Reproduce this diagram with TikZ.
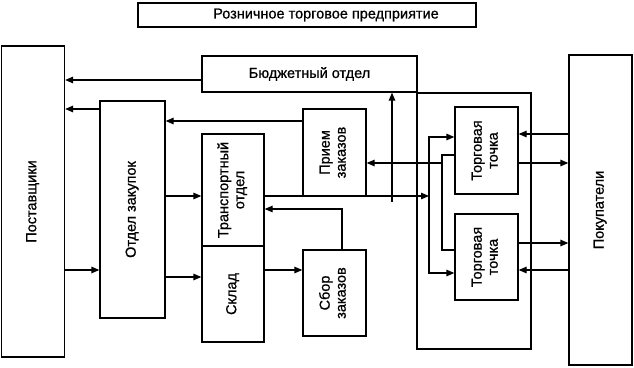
\documentclass[tikz,border=0pt]{standalone}
\usepackage{fontspec}
\setmainfont{Liberation Sans}[FakeBold=0.8]
\usetikzlibrary{arrows.meta}
\newcommand{\vtext}[1]{\rotatebox{90}{\begin{tabular}{@{}c@{}}#1\end{tabular}}}
\begin{document}
\begin{tikzpicture}[x=1pt,y=-1pt,line width=1.3pt,
  every node/.style={font=\fontsize{14.5}{16}\selectfont},
  box/.style={draw,rectangle,inner sep=0pt},
  arr/.style={-{Triangle[length=8pt,width=6.5pt]}}]
\useasboundingbox (0,0) rectangle (634,367);
\node[box,minimum width=338pt,minimum height=24pt] (title) at (307,15) {\hspace*{38pt}Розничное торговое предприятие};
\node[box,minimum width=63pt,minimum height=311pt] (supp) at (33,201.5) {\vtext{Поставщики}};
\node[box,minimum width=65pt,minimum height=217pt] (purch) at (132.5,209.5) {\vtext{Отдел закупок}};
\node[box,minimum width=215pt,minimum height=36pt] (budget) at (309.5,74) {Бюджетный отдел};
\node[box,minimum width=62pt,minimum height=112pt] (transp) at (233,190) {\vtext{Транспортный\\отдел}};
\node[box,minimum width=62pt,minimum height=96pt] (store) at (233,294) {\vtext{Склад}};
\node[box,minimum width=63pt,minimum height=87pt] (recv) at (334.5,152.5) {\vtext{Прием\\заказов}};
\node[box,minimum width=63pt,minimum height=86pt] (pick) at (334.5,293) {\vtext{Сбор\\заказов}};
\node[box,minimum width=114pt,minimum height=256pt] (shop) at (474,221) {};
\node[box,minimum width=63pt,minimum height=87pt] (pt1) at (486.5,150.5) {\vtext{Торговая\\точка}};
\node[box,minimum width=63pt,minimum height=86pt] (pt2) at (486.5,257) {\vtext{Торговая\\точка}};
\node[box,minimum width=63pt,minimum height=310pt] (buy) at (600.5,210) {\vtext{Покупатели}};
% supply side
\draw[arr] (budget.west |- 0,80) -- (supp.east |- 0,80);
\draw[arr] (purch.west |- 0,109) -- (supp.east |- 0,109);
\draw[arr] (recv.west |- 0,121) -- (purch.east |- 0,121);
\draw[arr] (supp.east |- 0,270) -- (purch.west |- 0,270);
\draw[arr] (purch.east |- 0,196) -- (transp.west |- 0,196);
\draw[arr] (purch.east |- 0,277) -- (store.west |- 0,277);
\draw[arr] (store.east |- 0,270) -- (pick.west |- 0,270);
\draw[arr] (pick.north -| 342,0) |- (transp.east |- 0,209);
% to the shops
\coordinate (bus) at (429,196);
\coordinate (tap) at (392,202);
\coordinate (ret) at (442,163);
\draw[arr] (transp.east |- 0,196) -- (bus);
\draw[arr] (bus) |- (pt1.west |- 0,137);
\draw[arr] (bus) |- (pt2.west |- 0,273);
\draw[arr] (tap) -- (budget.south -| tap);
\draw (pt1.west |- 0,155) -- (442,155) -- (442,250) -- (pt2.west |- 0,250);
\draw[arr] (ret) -- (recv.east |- ret);
% customers
\draw[arr] (buy.west |- 0,134) -- (pt1.east |- 0,134);
\draw[arr] (pt1.east |- 0,163) -- (buy.west |- 0,163);
\draw[arr] (pt2.east |- 0,243) -- (buy.west |- 0,243);
\draw[arr] (buy.west |- 0,270) -- (pt2.east |- 0,270);
\end{tikzpicture}
\end{document}
